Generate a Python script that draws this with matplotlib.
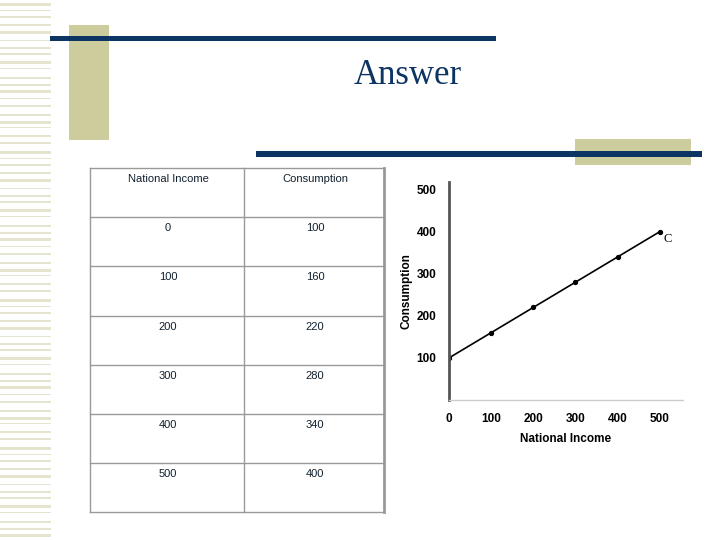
import matplotlib
matplotlib.use("Agg")
from matplotlib import pyplot as plt
from matplotlib.patches import Rectangle

income = [0, 100, 200, 300, 400, 500]
consumption = [100, 160, 220, 280, 340, 400]
headers = ["National Income", "Consumption"]
xticks = [0, 100, 200, 300, 400, 500]
yticks = [100, 200, 300, 400, 500]

navy = "#0d3563"
beige = "#cccc9c"
plt.rcParams["font.family"] = ["Liberation Sans", "DejaVu Sans"]

fig = plt.figure(figsize=(7.2, 5.4), dpi=100)

# full-page overlay in pixel coordinates for the slide decoration and table
bg = fig.add_axes([0, 0, 1, 1])
bg.set_xlim(0, 720)
bg.set_ylim(540, 0)
bg.axis("off")

# striped margin on the left
y = 3
k = 0
while y < 540:
    h = [2.5, 1.2, 2.0, 1.5][k % 4]
    bg.add_patch(Rectangle((0, y), 51, h, color="#e4e4cf", lw=0))
    y += [7, 6, 8, 7, 9][k % 5]
    k += 1

bg.add_patch(Rectangle((69, 25), 40, 115, color=beige, lw=0))
bg.add_patch(Rectangle((50, 36), 446, 5, color=navy, lw=0))
bg.add_patch(Rectangle((575, 139), 116, 26, color=beige, lw=0))
bg.add_patch(Rectangle((256, 151), 446, 6, color=navy, lw=0))
bg.text(408, 75, "Answer", fontsize=25, family="Liberation Serif", color=navy,
        ha="center", va="center")

# table
left, mid, right = 90, 244, 384
top, row_h = 168, 49.2
nrows = len(income) + 1
bottom = top + row_h * nrows
bg.plot([left, left], [top, bottom], color="#999999", lw=1)
bg.plot([mid, mid], [top, bottom], color="#999999", lw=1)
bg.plot([right, right], [top, bottom], color="#999999", lw=2)
for i in range(nrows + 1):
    yy = top + i * row_h
    bg.plot([left, right], [yy, yy], color="#999999", lw=1)
cx1, cx2 = 168, 315
tc = "#10202e"
bg.text(cx1, top + 11, headers[0], fontsize=8, ha="center", va="center", color=tc)
bg.text(cx2, top + 11, headers[1], fontsize=8, ha="center", va="center", color=tc)
for i, (a, b) in enumerate(zip(income, consumption)):
    yy = top + (i + 1) * row_h + 11
    bg.text(cx1, yy, str(a), fontsize=8, ha="center", va="center", color=tc)
    bg.text(cx2, yy, str(b), fontsize=8, ha="center", va="center", color=tc)

# consumption chart
ax = fig.add_axes([449 / 720, (540 - 400) / 540, (683 - 449) / 720, (400 - 182) / 540])
ax.plot(income, consumption, color="black", lw=1.2, marker="o", markersize=2.8)
ax.set_xlim(0, 555)
ax.set_ylim(0, 518)
ax.set_xticks(xticks)
ax.set_yticks(yticks)
ax.tick_params(length=0, labelsize=8.5, pad=9)
for lab in ax.get_xticklabels() + ax.get_yticklabels():
    lab.set_fontweight("bold")
ax.spines["top"].set_visible(False)
ax.spines["right"].set_visible(False)
ax.spines["left"].set_color("#555555")
ax.spines["left"].set_linewidth(2)
ax.spines["bottom"].set_color("#cccccc")
ax.spines["bottom"].set_linewidth(1)
ax.set_xlabel("National Income", fontsize=8.5, fontweight="bold", labelpad=6)
ax.set_ylabel("Consumption", fontsize=8.5, fontweight="bold", labelpad=3)
ax.text(income[-1] + 8, consumption[-1] - 25, "C", fontsize=9, family="Liberation Serif")

fig.savefig("out.png", dpi=100)
